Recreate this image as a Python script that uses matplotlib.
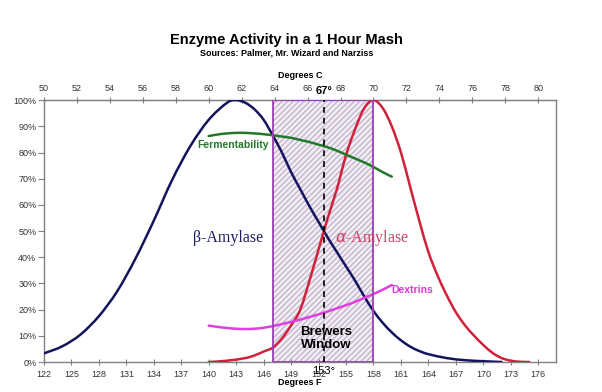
import numpy as np
import matplotlib
matplotlib.use("Agg")
import matplotlib.pyplot as plt
from matplotlib.patches import Rectangle, PathPatch
from matplotlib.path import Path
from matplotlib.ticker import FuncFormatter

plt.rcParams['font.family'] = ['Liberation Sans', 'DejaVu Sans']

# beta-amylase (deg F, % activity)
beta_f = [122, 124, 126, 128, 130, 132, 134, 136, 138, 140, 142, 143, 144, 145,
          146, 147, 148, 149, 150, 151, 152, 153, 154, 155, 156, 157, 158, 159,
          160, 161, 162, 163, 164, 166, 168, 170, 172]
beta_v = [3.3, 6, 10.5, 17.5, 27, 39.5, 54, 69.5, 82.5, 92.5, 99, 100, 99, 96.5,
          92.5, 86.5, 80, 72.5, 66, 59.5, 53.5, 47.5, 42, 36.5, 31, 25, 19.5, 15,
          11.3, 8.3, 5.9, 4.2, 3, 1.5, 0.7, 0.3, 0]

# alpha-amylase
alpha_f = [140, 142, 144, 145, 146, 147, 148, 149, 150, 151, 152, 153, 154, 155,
           156, 157, 158, 159, 160, 161, 162, 163, 164, 165, 166, 167, 168, 169,
           170, 171, 172, 173, 174, 175]
alpha_v = [0, 0.5, 1.5, 2.5, 4, 5.5, 9, 14, 20, 31, 43, 55, 66, 79,
           89, 97, 100, 97, 90, 80, 67, 54, 42, 33, 25.5, 19, 14, 10,
           6.5, 3.5, 1.5, 0.5, 0.1, 0]

# fermentability and dextrins
ferm_f = list(range(140, 161))
ferm_v = [86.3, 86.9, 87.3, 87.5, 87.5, 87.3, 87.0, 86.6, 86.1, 85.6, 84.8,
          84.0, 83.0, 82.0, 80.7, 79.2, 77.7, 76.2, 74.5, 72.5, 70.8]
dext_f = list(range(140, 161))
dext_v = [13.9, 13.4, 13.0, 12.7, 12.6, 12.7, 13.1, 13.7, 14.5, 15.3, 16.2,
          17.2, 18.2, 19.3, 20.5, 21.7, 23.0, 24.5, 26.0, 27.6, 29.4]

window = (147, 158)
mark_c = 67
f_ticks = list(range(122, 177, 3))
c_ticks = list(range(50, 81, 2))


def smooth_line(ax, xs, ys, color, lw=1.8):
    # excel-style smoothed line: bezier segments through the points
    x = np.asarray(xs, float)
    y = np.asarray(ys, float)
    verts = [(x[0], y[0])]
    codes = [Path.MOVETO]
    n = len(x)
    for i in range(n - 1):
        x0, y0 = (x[i - 1], y[i - 1]) if i > 0 else (x[i], y[i])
        x3, y3 = (x[i + 2], y[i + 2]) if i + 2 < n else (x[i + 1], y[i + 1])
        c1 = (x[i] + (x[i + 1] - x0) / 6, y[i] + (y[i + 1] - y0) / 6)
        c2 = (x[i + 1] - (x3 - x[i]) / 6, y[i + 1] - (y3 - y[i]) / 6)
        verts += [c1, c2, (x[i + 1], y[i + 1])]
        codes += [Path.CURVE4] * 3
    ax.add_patch(PathPatch(Path(verts, codes), facecolor='none', edgecolor=color,
                           lw=lw, zorder=3, capstyle='round', joinstyle='round'))


fig = plt.figure(figsize=(6.02, 3.92), dpi=100)
ax = fig.add_axes([0.073, 0.0765, 0.850, 0.668])

tick_col = '#333333'
spine_col = '#808080'

# brewers window
ax.add_patch(Rectangle((window[0], 0), window[1] - window[0], 100,
                       facecolor='#f3eef6', edgecolor='#c4b6cc', hatch='//////',
                       linewidth=0, zorder=1))
ax.add_patch(Rectangle((window[0], 0), window[1] - window[0], 100,
                       facecolor='none', edgecolor='#9b3fb0', linewidth=1.3, zorder=4))

mark_f = mark_c * 9 / 5 + 32
ax.plot([mark_f, mark_f], [0, 100], color='black', ls=(0, (3.5, 3)), lw=1.2, zorder=5)

smooth_line(ax, beta_f, beta_v, '#14145e')
smooth_line(ax, alpha_f, alpha_v, '#d0203a')
smooth_line(ax, ferm_f, ferm_v, '#23792a')
smooth_line(ax, dext_f, dext_v, '#e03ee0')

ax.set_xlim(122, 177.9)
ax.set_ylim(0, 100)
ax.set_xticks(f_ticks)
ax.set_yticks(range(0, 101, 10))
ax.yaxis.set_major_formatter(FuncFormatter(lambda v, p: f"{int(v)}%"))
ax.tick_params(axis='x', direction='inout', length=5, color=spine_col,
               labelsize=6.5, labelcolor=tick_col, pad=3)
ax.tick_params(axis='y', direction='out', length=4, color=spine_col,
               labelsize=6.5, labelcolor=tick_col, pad=1.5)
for s in ax.spines.values():
    s.set_color(spine_col)
    s.set_linewidth(1.0)

top = ax.secondary_xaxis('top', functions=(lambda f: (f - 32) * 5 / 9,
                                            lambda c: c * 9 / 5 + 32))
top.set_xticks(c_ticks)
top.tick_params(direction='inout', length=5, color=spine_col,
                labelsize=6.5, labelcolor=tick_col, pad=3)
top.spines['top'].set_color(spine_col)

# labels
ax.text(142.7, 82.8, 'Fermentability', color='#23792a', fontsize=7.5,
        fontweight='bold', ha='center', va='center', zorder=6)
ax.text(162.2, 27.6, 'Dextrins', color='#d83ad8', fontsize=7.5,
        fontweight='bold', ha='center', va='center', zorder=6)
ax.text(142.1, 47.5, 'β-Amylase', color='#1e1e66', fontsize=11.5,
        family=['Liberation Serif', 'DejaVu Serif'], ha='center', va='center', zorder=6)
ax.text(157.9, 47.5, r'$\alpha$-Amylase', color='#d04060', fontsize=11.5,
        family=['Liberation Serif', 'DejaVu Serif'], ha='center', va='center', zorder=6)
ax.text(152.8, 9.0, 'Brewers\nWindow', color='black', fontsize=9.5,
        fontweight='bold', ha='center', va='center', linespacing=1.1, zorder=6)
ax.text(mark_f, 101.5, '67°', color='black', fontsize=8, fontweight='bold',
        ha='center', va='bottom', zorder=6, clip_on=False)
ax.text(mark_f, -1.5, '153°', color='black', fontsize=8,
        ha='center', va='top', zorder=6, clip_on=False)

fig.text(0.475, 0.898, 'Enzyme Activity in a 1 Hour Mash', fontsize=10.5,
         fontweight='bold', ha='center', va='center')
fig.text(0.477, 0.864, 'Sources: Palmer, Mr. Wizard and Narziss', fontsize=6.5,
         fontweight='bold', ha='center', va='center')
fig.text(0.498, 0.808, 'Degrees C', fontsize=6.5, fontweight='bold',
         ha='center', va='center')
fig.text(0.498, 0.023, 'Degrees F', fontsize=6.5, fontweight='bold',
         ha='center', va='center')

fig.savefig('out.png', dpi=100)
